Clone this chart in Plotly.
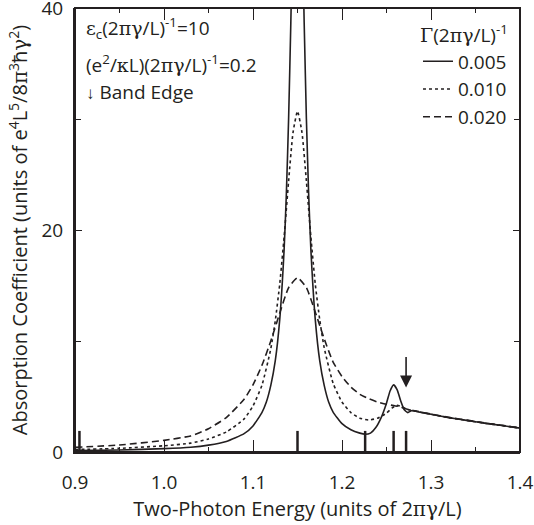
import plotly.graph_objects as go

# ---- data ----
x_solid = [0.90, 0.95, 1.00, 1.03, 1.05, 1.07, 1.09, 1.10, 1.11, 1.115, 1.12, 1.125, 1.13, 1.135,
           1.1375, 1.14, 1.1425, 1.145, 1.1475, 1.15, 1.1525, 1.155, 1.1575, 1.16, 1.1625, 1.165,
           1.17, 1.175, 1.18, 1.185, 1.19, 1.20, 1.21, 1.22, 1.226, 1.232, 1.238, 1.244, 1.25,
           1.254, 1.258, 1.262, 1.266, 1.27, 1.274, 1.278, 1.29, 1.30, 1.32, 1.34, 1.36, 1.38, 1.40]
y_solid = [0.12, 0.18, 0.30, 0.43, 0.62, 0.95, 1.65, 2.35, 3.55, 4.5, 6.0, 8.2, 11.9, 18.3,
           23.3, 30.0, 38.7, 48.7, 57.7, 61.4, 57.7, 48.7, 38.7, 30.0, 23.3, 18.3,
           11.9, 8.2, 6.0, 4.5, 3.6, 2.55, 2.0, 1.7, 1.6, 1.7, 2.2, 3.1, 4.4,
           5.5, 6.05, 5.6, 4.6, 3.8, 3.55, 3.72, 3.55, 3.4, 3.1, 2.85, 2.6, 2.38, 2.15]

x_dot = [0.90, 0.95, 1.00, 1.03, 1.05, 1.07, 1.09, 1.10, 1.11, 1.12, 1.125, 1.13, 1.135, 1.14,
         1.145, 1.15, 1.155, 1.16, 1.165, 1.17, 1.175, 1.18, 1.19, 1.20, 1.21, 1.22, 1.23, 1.24,
         1.25, 1.256, 1.262, 1.268, 1.274, 1.28, 1.30, 1.32, 1.34, 1.36, 1.38, 1.40]
y_dot = [0.22, 0.33, 0.56, 0.80, 1.18, 1.80, 2.98, 4.15, 6.0, 9.3, 11.8, 15.1, 19.4, 24.4,
         28.8, 30.7, 28.8, 24.4, 19.4, 15.1, 11.9, 9.4, 6.2, 4.5, 3.55, 3.05, 2.88, 3.05,
         3.5, 3.95, 4.2, 4.05, 3.82, 3.72, 3.4, 3.1, 2.85, 2.6, 2.38, 2.15]

x_dash = [0.90, 0.95, 1.00, 1.03, 1.05, 1.07, 1.09, 1.10, 1.11, 1.12, 1.13, 1.14, 1.15, 1.16,
          1.17, 1.18, 1.19, 1.20, 1.21, 1.22, 1.23, 1.24, 1.25, 1.26, 1.265, 1.27, 1.28, 1.30,
          1.32, 1.34, 1.36, 1.38, 1.40]
y_dash = [0.42, 0.63, 1.05, 1.45, 2.1, 3.1, 4.75, 6.05, 7.8, 10.0, 12.5, 14.8, 15.7, 14.8,
          12.6, 10.2, 8.1, 6.8, 5.85, 5.2, 4.8, 4.5, 4.3, 4.15, 4.1, 3.92, 3.74, 3.42,
          3.12, 2.87, 2.62, 2.4, 2.17]

series_names = ["0.005", "0.010", "0.020"]
mark_energies = [0.905, 1.15, 1.226, 1.258, 1.272]
mark_height = 1.9
band_edge = 1.272
band_edge_tip = 5.8

x_range = [0.9, 1.4]
y_range = [0, 40]
x_ticks = [0.9, 1.0, 1.1, 1.2, 1.3, 1.4]
x_ticklabels = ["0.9", "1.0", "1.1", "1.2", "1.3", "1.4"]
y_ticks = [0, 20, 40]

INK = "#231f20"
FONT = "Open Sans"
GR = "font-family:DejaVu Serif"
FS = 20


def g(c):
    return f"<span style=\"{GR}\">{c}</span>"


fig = go.Figure()

fig.add_trace(go.Scatter(x=x_solid, y=y_solid, mode="lines", name=series_names[0],
                         legendgroup="a", line=dict(color=INK, width=1.6, shape="spline", smoothing=0.5)))
fig.add_trace(go.Scatter(x=x_dot, y=y_dot, mode="lines", name=series_names[1],
                         legendgroup="b", line=dict(color=INK, width=1.6, dash="3px,3px", shape="spline", smoothing=0.5)))
fig.add_trace(go.Scatter(x=x_dash, y=y_dash, mode="lines", name=series_names[2],
                         legendgroup="c", line=dict(color=INK, width=1.6, dash="7px,4px", shape="spline", smoothing=0.5)))

mx, my = [], []
for e in mark_energies:
    mx += [e, e, None]
    my += [0, mark_height, None]
# drawn on the overlaid (top/right) axes so that those tick sets are rendered
fig.add_trace(go.Scatter(x=mx, y=my, mode="lines", showlegend=False, hoverinfo="skip",
                         xaxis="x2", yaxis="y2", line=dict(color=INK, width=2.5)))

fig.add_annotation(x=band_edge, y=band_edge_tip, xref="x", yref="y", ax=0, ay=-32,
                   showarrow=True, arrowhead=2, arrowsize=1.5, arrowwidth=1.6, arrowcolor=INK,
                   text="", standoff=0)

txt_font = dict(family=FONT, size=FS - 1, color=INK)
fig.add_annotation(xref="paper", yref="paper", x=0.02, y=0.956, xanchor="left", yanchor="middle",
                   showarrow=False, font=txt_font,
                   text=f"{g('ε')}<sub>c</sub>(2{g('πγ')}/L)<sup>-1</sup>=10")
fig.add_annotation(xref="paper", yref="paper", x=0.02, y=0.875, xanchor="left", yanchor="middle",
                   showarrow=False, font=txt_font,
                   text=f"(e<sup>2</sup>/{g('κ')}L)(2{g('πγ')}/L)<sup>-1</sup>=0.2")
fig.add_annotation(xref="paper", yref="paper", x=0.02, y=0.811, xanchor="left", yanchor="middle",
                   showarrow=False, font=txt_font,
                   text="<span style=\"font-size:17px\"><b>↓</b></span> Band Edge")

# plot frame (all four sides)
fig.add_shape(type="rect", xref="paper", yref="paper", x0=0, x1=1, y0=0, y1=1,
              line=dict(color=INK, width=2), fillcolor="rgba(0,0,0,0)", layer="above")

common = dict(showgrid=False, zeroline=False, tickwidth=1, tickcolor=INK, ticks="inside")

fig.update_layout(
    template="none",
    width=534, height=525,
    margin=dict(l=75, r=14, t=8, b=73, autoexpand=False),
    paper_bgcolor="white", plot_bgcolor="white",
    font=dict(family=FONT, size=FS, color=INK),
    showlegend=True,
    legend=dict(x=0.982, xanchor="right", y=0.978, yanchor="top",
                bgcolor="rgba(0,0,0,0)", tracegroupgap=0,
                font=dict(family=FONT, size=FS - 1, color=INK),
                title=dict(text=f"{g('Γ')}(2{g('πγ')}/L)<sup>-1</sup>",
                           font=dict(family=FONT, size=FS - 1, color=INK))),
    xaxis=dict(range=x_range, tickvals=x_ticks, ticktext=x_ticklabels, automargin=False,
               ticklen=12, showline=True, linewidth=2, linecolor=INK,
               minor=dict(dtick=0.05, tick0=0.9, ticks="inside", ticklen=5, tickwidth=1, tickcolor=INK),
               ticklabelstandoff=12, ticklabeloverflow="allow",
               tickfont=dict(family=FONT, size=FS - 1, color=INK),
               title=dict(text=f"Two-Photon Energy (units of 2{g('πγ')}/L)", standoff=7,
                          font=dict(family=FONT, size=FS, color=INK)), **common),
    yaxis=dict(range=y_range, tickvals=y_ticks, automargin=False,
               ticklen=7, showline=True, linewidth=2, linecolor=INK,
               minor=dict(dtick=10, tick0=0, ticks="inside", ticklen=6, tickwidth=1, tickcolor=INK),
               ticklabelstandoff=6, ticklabeloverflow="allow",
               tickfont=dict(family=FONT, size=FS - 1, color=INK),
               title=dict(text=f"Absorption Coefficient (units of e<sup>4</sup>L<sup>5</sup>/8{g('π')}<sup>3</sup>ħ{g('γ')}<sup>2</sup>)",
                          standoff=8, font=dict(family=FONT, size=FS, color=INK)), **common),
    xaxis2=dict(range=x_range, overlaying="x", side="top", anchor="y2", tickvals=x_ticks,
                ticklen=12, showticklabels=False, showline=False, automargin=False,
                minor=dict(dtick=0.05, tick0=0.9, ticks="inside", ticklen=5, tickwidth=1, tickcolor=INK),
                **common),
    yaxis2=dict(range=y_range, overlaying="y", side="right", anchor="x2", tickvals=y_ticks,
                ticklen=7, showticklabels=False, showline=False, automargin=False,
                minor=dict(dtick=10, tick0=0, ticks="inside", ticklen=6, tickwidth=1, tickcolor=INK),
                **common),
)

fig.write_html("out.html", config={"displayModeBar": False},
               post_script="document.body.style.margin='0';document.body.style.overflow='hidden';")
